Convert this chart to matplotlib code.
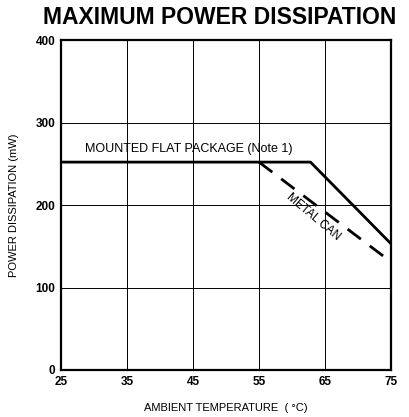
import numpy as np
import matplotlib.pyplot as plt

plt.rcParams['font.family'] = ['Liberation Sans', 'DejaVu Sans']

# values
flat_temp = [25, 62.8, 75]
flat_power = [252, 252, 153]
can_temp = [55, 75]
can_power = [252, 131]

xticks = [25, 35, 45, 55, 65, 75]
yticks = [0, 100, 200, 300, 400]

fig = plt.figure(figsize=(4.1, 4.17), dpi=100)
ax = fig.add_axes([61/410, 1 - 370/417, 330/410, 330/417])

ax.plot(flat_temp, flat_power, color='black', lw=2.0, solid_capstyle='butt')
ax.plot(can_temp, can_power, color='black', lw=2.0, dashes=(6, 4))

ax.set_xlim(25, 75)
ax.set_ylim(0, 400)
ax.set_xticks(xticks)
ax.set_yticks(yticks)
ax.grid(True, color='black', lw=0.7)
ax.tick_params(direction='in', length=0, labelsize=8.5, pad=4)
for lab in ax.get_xticklabels() + ax.get_yticklabels():
    lab.set_fontweight('bold')
for s in ax.spines.values():
    s.set_linewidth(1.6)

ax.text(28.6, 268, 'MOUNTED FLAT PACKAGE (Note 1)', fontsize=9, ha='left', va='center')
ax.text(63.3, 185, 'METAL CAN', fontsize=8.5, ha='center', va='center', rotation=-40)

ax.set_xlabel('AMBIENT TEMPERATURE  ( \u00b0C)', fontsize=8, labelpad=11)
ax.set_ylabel('POWER DISSIPATION (mW)', fontsize=8, labelpad=12)
fig.text(220/410, 1 - 17/417, 'MAXIMUM POWER DISSIPATION', fontsize=16.5, fontweight='bold',
         ha='center', va='center')

fig.savefig('out.png', dpi=100)
